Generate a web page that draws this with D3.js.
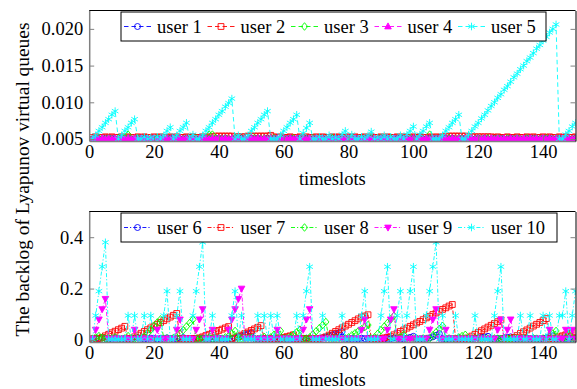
<!DOCTYPE html>
<html>
<head>
<meta charset="utf-8">
<title>Backlog of Lyapunov virtual queues</title>
<script src="https://d3js.org/d3.v7.min.js"></script>
<style>
  body { margin: 0; background: #fff; }
  svg, svg text { font-family: "Liberation Serif", "Times New Roman", "DejaVu Serif", serif !important; }
</style>
</head>
<body>
<script>
// timeslots 1..150
var slots = d3.range(1, 151);

// ---- top panel: users 1-5 ----
var user1 = [
  .0050,.0051,.0050,.0050,.0051,.0050,.0051,.0050,.0050,.0051,
  .0050,.0051,.0050,.0050,.0051,.0050,.0051,.0050,.0050,.0051,
  .0050,.0051,.0050,.0050,.0051,.0050,.0051,.0050,.0050,.0051,
  .0050,.0051,.0050,.0050,.0051,.0050,.0051,.0050,.0050,.0051,
  .0050,.0051,.0050,.0050,.0051,.0050,.0051,.0050,.0050,.0051,
  .0050,.0051,.0050,.0050,.0051,.0050,.0051,.0050,.0050,.0051,
  .0050,.0051,.0050,.0050,.0051,.0050,.0051,.0050,.0050,.0051,
  .0050,.0051,.0050,.0050,.0051,.0050,.0051,.0050,.0050,.0051,
  .0050,.0051,.0050,.0050,.0051,.0050,.0051,.0050,.0050,.0051,
  .0050,.0051,.0050,.0050,.0051,.0050,.0051,.0050,.0050,.0051,
  .0050,.0051,.0050,.0050,.0051,.0050,.0051,.0050,.0050,.0051,
  .0050,.0051,.0050,.0050,.0051,.0050,.0051,.0050,.0050,.0051,
  .0050,.0051,.0050,.0050,.0051,.0050,.0051,.0050,.0050,.0051,
  .0050,.0051,.0050,.0050,.0051,.0050,.0051,.0050,.0050,.0051,
  .0050,.0051,.0050,.0050,.0051,.0050,.0051,.0050,.0050,.0051
];
var user2 = [
  .0052,.0053,.0052,.0052,.0053,.0052,.0053,.0052,.0052,.0053,
  .0052,.0053,.0052,.0052,.0053,.0052,.0053,.0052,.0052,.0053,
  .0052,.0053,.0052,.0052,.0053,.0052,.0053,.0052,.0052,.0053,
  .0052,.0053,.0052,.0052,.0053,.0052,.0053,.0053,.0054,.0054,
  .0054,.0054,.0054,.0054,.0053,.0053,.0053,.0053,.0054,.0054,
  .0054,.0054,.0054,.0054,.0054,.0055,.0053,.0052,.0053,.0052,
  .0052,.0053,.0052,.0052,.0053,.0052,.0053,.0052,.0052,.0053,
  .0052,.0053,.0052,.0052,.0053,.0052,.0053,.0052,.0052,.0053,
  .0052,.0053,.0052,.0052,.0053,.0052,.0053,.0052,.0052,.0053,
  .0052,.0053,.0052,.0052,.0053,.0052,.0053,.0052,.0052,.0053,
  .0052,.0053,.0052,.0052,.0053,.0052,.0053,.0052,.0053,.0053,
  .0054,.0054,.0054,.0054,.0054,.0054,.0053,.0053,.0053,.0053,
  .0053,.0053,.0053,.0053,.0052,.0053,.0052,.0052,.0053,.0052,
  .0052,.0053,.0052,.0052,.0053,.0052,.0053,.0052,.0052,.0053,
  .0052,.0053,.0052,.0052,.0053,.0052,.0053,.0052,.0052,.0053
];
var user3 = [
  .0050,.0050,.0051,.0050,.0050,.0051,.0050,.0050,.0051,.0050,
  .0052,.0056,.0050,.0050,.0051,.0050,.0050,.0051,.0050,.0050,
  .0051,.0050,.0050,.0051,.0050,.0050,.0051,.0050,.0050,.0051,
  .0050,.0050,.0051,.0050,.0050,.0051,.0056,.0056,.0051,.0050,
  .0050,.0051,.0050,.0050,.0051,.0050,.0050,.0051,.0050,.0050,
  .0051,.0050,.0050,.0051,.0050,.0050,.0051,.0050,.0050,.0051,
  .0050,.0050,.0051,.0050,.0050,.0051,.0050,.0050,.0051,.0050,
  .0050,.0051,.0050,.0050,.0051,.0050,.0050,.0051,.0050,.0050,
  .0051,.0050,.0050,.0051,.0050,.0050,.0051,.0050,.0050,.0051,
  .0050,.0050,.0051,.0050,.0050,.0051,.0050,.0050,.0051,.0050,
  .0050,.0051,.0050,.0050,.0056,.0050,.0050,.0051,.0050,.0050,
  .0051,.0050,.0050,.0051,.0050,.0050,.0051,.0050,.0050,.0051,
  .0050,.0050,.0051,.0050,.0050,.0051,.0050,.0050,.0051,.0050,
  .0050,.0051,.0050,.0050,.0051,.0050,.0050,.0051,.0050,.0050,
  .0051,.0050,.0050,.0051,.0050,.0050,.0051,.0050,.0050,.0051
];
var user4 = [
  .0050,.0051,.0050,.0051,.0050,.0051,.0050,.0051,.0050,.0051,
  .0050,.0051,.0050,.0051,.0050,.0051,.0050,.0051,.0050,.0051,
  .0050,.0051,.0050,.0051,.0050,.0051,.0050,.0051,.0050,.0051,
  .0050,.0051,.0050,.0051,.0050,.0051,.0050,.0051,.0050,.0051,
  .0050,.0051,.0050,.0051,.0050,.0051,.0050,.0051,.0050,.0051,
  .0050,.0051,.0050,.0051,.0050,.0051,.0050,.0051,.0050,.0051,
  .0050,.0051,.0050,.0051,.0050,.0051,.0050,.0051,.0050,.0051,
  .0050,.0051,.0050,.0051,.0050,.0051,.0050,.0051,.0050,.0051,
  .0050,.0051,.0050,.0051,.0050,.0051,.0050,.0051,.0050,.0051,
  .0050,.0051,.0050,.0051,.0050,.0051,.0050,.0051,.0050,.0051,
  .0050,.0051,.0050,.0051,.0050,.0051,.0050,.0051,.0050,.0051,
  .0050,.0051,.0050,.0051,.0050,.0051,.0050,.0051,.0050,.0051,
  .0050,.0051,.0050,.0051,.0050,.0051,.0050,.0051,.0050,.0051,
  .0050,.0051,.0050,.0051,.0050,.0051,.0050,.0051,.0050,.0051,
  .0050,.0051,.0050,.0051,.0050,.0051,.0050,.0051,.0050,.0051
];
var user5 = [
  .0050,.0055,.0061,.0066,.0072,.0077,.0083,.0088,.0050,.0055,
  .0061,.0066,.0072,.0077,.0050,.0050,.0053,.0050,.0052,.0050,
  .0053,.0050,.0055,.0061,.0066,.0050,.0055,.0061,.0066,.0072,
  .0050,.0056,.0050,.0050,.0055,.0061,.0066,.0072,.0077,.0083,
  .0088,.0094,.0099,.0105,.0050,.0055,.0050,.0050,.0055,.0061,
  .0066,.0072,.0077,.0083,.0088,.0050,.0050,.0050,.0055,.0061,
  .0066,.0072,.0077,.0083,.0050,.0058,.0065,.0072,.0050,.0050,
  .0053,.0050,.0050,.0055,.0050,.0052,.0050,.0056,.0061,.0050,
  .0056,.0050,.0050,.0053,.0050,.0055,.0060,.0050,.0052,.0050,
  .0055,.0050,.0053,.0050,.0050,.0055,.0050,.0056,.0061,.0067,
  .0050,.0056,.0061,.0067,.0072,.0050,.0050,.0050,.0055,.0061,
  .0066,.0072,.0077,.0083,.0050,.0050,.0056,.0061,.0067,.0072,
  .0078,.0083,.0089,.0095,.0100,.0106,.0111,.0117,.0122,.0128,
  .0134,.0139,.0145,.0150,.0156,.0161,.0167,.0173,.0178,.0184,
  .0189,.0195,.0200,.0206,.0050,.0050,.0056,.0061,.0067,.0072
];

// ---- bottom panel: users 6-10 ----
var user6 = [
  .004,.006,.005,.008,.006,.004,.005,.007,.005,.004,
  .006,.005,.004,.007,.009,.006,.004,.005,.007,.006,
  .004,.006,.005,.008,.006,.004,.005,.007,.009,.005,
  .004,.006,.005,.004,.007,.005,.006,.004,.005,.007,
  .005,.004,.006,.005,.008,.012,.016,.020,.024,.028,
  .005,.004,.006,.005,.007,.004,.006,.005,.004,.006,
  .005,.007,.004,.006,.005,.004,.007,.005,.006,.004,
  .006,.008,.012,.016,.020,.024,.028,.032,.005,.004,
  .006,.005,.004,.007,.005,.006,.004,.005,.007,.006,
  .004,.006,.005,.008,.006,.004,.005,.007,.010,.014,
  .005,.004,.006,.005,.008,.012,.018,.024,.005,.004,
  .006,.005,.004,.007,.005,.006,.004,.005,.007,.008,
  .010,.012,.014,.005,.004,.006,.005,.008,.010,.012,
  .005,.004,.006,.005,.007,.004,.006,.005,.004,.006,
  .008,.012,.016,.005,.004,.006,.005,.007,.004,.006
];
var user7 = [
  .005,.004,.006,.010,.016,.022,.028,.034,.040,.046,
  .053,.005,.006,.012,.019,.026,.033,.040,.047,.054,
  .061,.068,.075,.082,.089,.096,.103,.005,.004,.006,
  .005,.004,.006,.008,.012,.017,.022,.027,.032,.037,
  .042,.047,.052,.005,.008,.013,.019,.025,.031,.037,
  .043,.049,.056,.005,.004,.006,.005,.008,.004,.010,
  .013,.016,.020,.005,.004,.006,.005,.004,.006,.005,
  .004,.008,.012,.019,.026,.033,.040,.047,.054,.061,
  .068,.075,.082,.089,.093,.098,.005,.004,.006,.005,
  .008,.010,.013,.020,.026,.033,.039,.046,.053,.059,
  .066,.072,.079,.086,.092,.099,.105,.112,.119,.125,
  .132,.138,.005,.004,.006,.005,.008,.015,.022,.029,
  .036,.043,.050,.057,.064,.071,.078,.005,.004,.006,
  .010,.017,.025,.032,.039,.046,.054,.061,.068,.075,
  .083,.005,.005,.008,.012,.016,.020,.024,.028,.032
];
var user8 = [
  .005,.010,.015,.008,.005,.004,.006,.010,.005,.004,
  .006,.015,.005,.004,.006,.005,.012,.026,.040,.054,
  .068,.080,.005,.006,.004,.008,.010,.024,.038,.052,
  .066,.080,.005,.006,.004,.005,.008,.005,.004,.006,
  .005,.010,.015,.025,.035,.005,.006,.004,.005,.008,
  .005,.004,.006,.012,.005,.010,.020,.028,.035,.005,
  .006,.012,.020,.030,.040,.005,.004,.010,.022,.034,
  .046,.058,.070,.005,.004,.006,.005,.004,.006,.010,
  .018,.026,.034,.042,.050,.058,.005,.010,.024,.038,
  .052,.066,.080,.094,.005,.010,.020,.005,.004,.006,
  .005,.004,.006,.005,.005,.018,.030,.043,.055,.005,
  .006,.004,.005,.010,.015,.020,.005,.004,.006,.005,
  .004,.006,.005,.004,.006,.005,.004,.006,.005,.004,
  .006,.005,.004,.006,.005,.004,.006,.005,.004,.006,
  .005,.015,.025,.035,.005,.004,.010,.020,.005,.004
];
var user9 = [
  .005,.040,.080,.120,.160,.005,.004,.006,.005,.004,
  .006,.005,.004,.040,.005,.004,.006,.005,.004,.006,
  .040,.005,.004,.006,.005,.004,.040,.080,.005,.006,
  .005,.005,.040,.080,.120,.005,.004,.040,.005,.006,
  .005,.004,.040,.080,.120,.160,.200,.005,.004,.006,
  .005,.004,.006,.005,.004,.006,.005,.040,.005,.004,
  .006,.005,.004,.006,.005,.040,.080,.120,.005,.004,
  .006,.005,.004,.006,.005,.004,.006,.005,.004,.006,
  .005,.004,.006,.040,.080,.005,.004,.006,.005,.004,
  .006,.040,.080,.120,.005,.004,.006,.005,.004,.006,
  .005,.004,.006,.005,.040,.080,.120,.005,.004,.040,
  .005,.006,.004,.005,.006,.004,.005,.006,.004,.005,
  .006,.004,.005,.006,.004,.040,.080,.005,.040,.080,
  .005,.004,.006,.005,.004,.006,.005,.004,.006,.005,
  .004,.040,.005,.004,.006,.005,.040,.005,.040,.005
];
var user10 = [
  .002,.095,.190,.285,.380,.002,.003,.002,.003,.002,
  .003,.095,.002,.095,.003,.002,.095,.003,.095,.002,
  .003,.002,.095,.190,.002,.003,.095,.190,.002,.003,
  .002,.095,.190,.285,.380,.002,.003,.095,.002,.003,
  .002,.003,.002,.095,.190,.002,.095,.003,.002,.003,
  .002,.095,.003,.095,.002,.095,.003,.095,.002,.003,
  .002,.003,.002,.095,.003,.095,.190,.285,.002,.003,
  .002,.095,.003,.002,.003,.002,.003,.095,.002,.003,
  .002,.003,.002,.095,.190,.002,.003,.002,.003,.095,
  .190,.285,.002,.003,.095,.190,.002,.095,.190,.285,
  .002,.003,.002,.095,.190,.285,.380,.002,.095,.003,
  .002,.003,.095,.002,.003,.002,.003,.002,.095,.003,
  .002,.003,.002,.003,.095,.190,.285,.002,.003,.002,
  .003,.002,.095,.003,.002,.095,.003,.002,.003,.095,
  .002,.095,.003,.002,.095,.095,.190,.002,.095,.190
];

var xTicks = [0, 20, 40, 60, 80, 100, 120, 140];
var topTicks = [0.005, 0.010, 0.015, 0.020];
var bottomTicks = [0, 0.2, 0.4];

var W = 577, H = 389;
var FONT = "'Liberation Serif', 'Times New Roman', 'DejaVu Serif', serif";
var svg = d3.select("body").append("svg").attr("width", W).attr("height", H)
  .attr("font-family", FONT);

var x = d3.scaleLinear().domain([0, 150]).range([89.2, 575.5]);

var colors = ["#0000ff", "#ff0000", "#00ff00", "#ff00ff", "#00ffff"];

function marker(kind) {
  switch (kind) {
    case "circle":  return "M3,0A3,3 0 1,1 -3,0A3,3 0 1,1 3,0Z";
    case "square":  return "M-2.9,-2.9H2.9V2.9H-2.9Z";
    case "diamond": return "M0,-3.8L3.1,0L0,3.8L-3.1,0Z";
    case "triUp":   return "M0,-3.6L3.3,2.4L-3.3,2.4Z";
    case "triDown": return "M0,3.6L3.3,-2.4L-3.3,-2.4Z";
    case "star":    return "M0,-3.8V3.8M-3.3,-1.9L3.3,1.9M-3.3,1.9L3.3,-1.9";
  }
}

function txt(sel, size) {
  return sel.attr("font-family", FONT).style("font-family", FONT)
    .attr("font-size", size || 18.5).attr("fill", "#000");
}

var panels = [
  { id: "clipTop", top: 10.5, bottom: 141, domain: [0.00473, 0.0225],
    ticks: topTicks, fmt: d3.format(".3f"), dash: "4.5,3",
    legend: { x0: 121, x1: 546, y0: 12, y1: 41 },
    series: [
      { name: "user 1", values: user1, m: "circle" },
      { name: "user 2", values: user2, m: "square" },
      { name: "user 3", values: user3, m: "diamond" },
      { name: "user 4", values: user4, m: "triUp" },
      { name: "user 5", values: user5, m: "star" }
    ] },
  { id: "clipBottom", top: 211.5, bottom: 342, domain: [-0.008, 0.5],
    ticks: bottomTicks, fmt: function(d) { return d === 0 ? "0" : d3.format(".1f")(d); },
    dash: "4,2,1.2,2",
    legend: { x0: 121, x1: 557, y0: 213, y1: 242 },
    series: [
      { name: "user 6", values: user6, m: "circle" },
      { name: "user 7", values: user7, m: "square" },
      { name: "user 8", values: user8, m: "diamond" },
      { name: "user 9", values: user9, m: "triDown" },
      { name: "user 10", values: user10, m: "star" }
    ] }
];

panels.forEach(function(p) {
  var y = d3.scaleLinear().domain(p.domain).range([p.bottom, p.top]);

  svg.append("clipPath").attr("id", p.id).append("rect")
    .attr("x", x.range()[0]).attr("y", p.top)
    .attr("width", x.range()[1] - x.range()[0]).attr("height", p.bottom - p.top);

  var g = svg.append("g").attr("clip-path", "url(#" + p.id + ")");
  var line = d3.line().x(function(d) { return x(d[0]); }).y(function(d) { return y(d[1]); });

  p.series.forEach(function(s, k) {
    var pts = slots.map(function(t, i) { return [t, s.values[i]]; });
    var filled = s.m === "triUp" || s.m === "triDown";
    g.append("path").attr("d", line(pts))
      .attr("fill", "none").attr("stroke", colors[k])
      .attr("stroke-width", 0.9).attr("stroke-dasharray", p.dash);
    g.selectAll(null).data(pts).enter().append("path")
      .attr("transform", function(d) { return "translate(" + x(d[0]) + "," + y(d[1]) + ")"; })
      .attr("d", marker(s.m))
      .attr("fill", filled ? colors[k] : "none")
      .attr("stroke", colors[k]).attr("stroke-width", 0.9);
  });

  // axes
  var ax = svg.append("g").attr("transform", "translate(0," + p.bottom + ")")
    .call(d3.axisBottom(x).tickValues(xTicks).tickSize(-5).tickSizeOuter(0).tickPadding(3.5));
  var ay = svg.append("g").attr("transform", "translate(" + x.range()[0] + ",0)")
    .call(d3.axisLeft(y).tickValues(p.ticks).tickFormat(p.fmt).tickSize(-5).tickSizeOuter(0).tickPadding(6));
  var ar = svg.append("g").attr("transform", "translate(" + x.range()[1] + ",0)")
    .call(d3.axisRight(y).tickValues(p.ticks).tickFormat("").tickSize(-5).tickSizeOuter(0));
  [ax, ay, ar].forEach(function(a) {
    a.attr("font-family", null).attr("font-size", null);
    txt(a.selectAll("text"));
    a.selectAll(".tick line").attr("stroke", "#808080");
    a.select(".domain").attr("stroke", "#808080").attr("stroke-width", 1.5);
  });
  ar.select(".domain").attr("stroke", "#000").attr("stroke-width", 1);
  svg.append("line").attr("x1", x.range()[0]).attr("x2", x.range()[1])
    .attr("y1", p.top).attr("y2", p.top).attr("stroke", "#000");

  // x label
  txt(svg.append("text")).attr("x", (x.range()[0] + x.range()[1]) / 2).attr("y", p.bottom + 44)
    .attr("text-anchor", "middle").text("timeslots");

  // legend
  var L = p.legend;
  svg.append("rect").attr("x", L.x0).attr("y", L.y0)
    .attr("width", L.x1 - L.x0).attr("height", L.y1 - L.y0)
    .attr("fill", "#fff").attr("stroke", "#000").attr("stroke-width", 1);
  var ly = (L.y0 + L.y1) / 2;
  p.series.forEach(function(s, k) {
    var ox = L.x0 + 3 + k * 83.5;
    svg.append("line").attr("x1", ox).attr("x2", ox + 27).attr("y1", ly).attr("y2", ly)
      .attr("stroke", colors[k]).attr("stroke-width", 0.9).attr("stroke-dasharray", p.dash);
    var filled = s.m === "triUp" || s.m === "triDown";
    svg.append("path").attr("transform", "translate(" + (ox + 13.5) + "," + ly + ")")
      .attr("d", marker(s.m)).attr("fill", filled ? colors[k] : "none")
      .attr("stroke", colors[k]).attr("stroke-width", 0.9);
    txt(svg.append("text")).attr("x", ox + 33).attr("y", ly + 6).text(s.name);
  });
});

txt(svg.append("text"), 19.4).attr("transform", "translate(28.5,179.5) rotate(-90)")
  .attr("text-anchor", "middle")
  .text("The backlog of Lyapunov virtual queues");
</script>
</body>
</html>
